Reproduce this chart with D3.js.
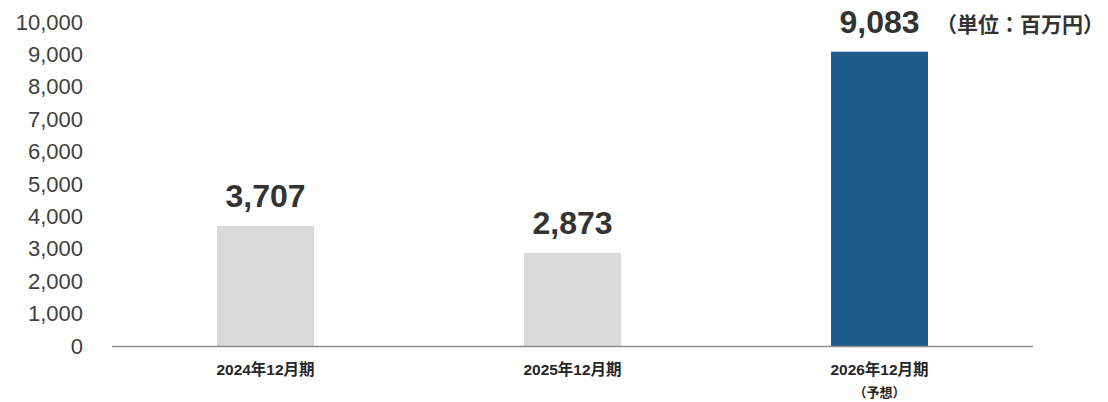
<!DOCTYPE html>
<html>
<head>
<meta charset="utf-8">
<script src="https://cdn.jsdelivr.net/npm/d3@7"></script>
<style>
  html, body { margin: 0; padding: 0; background: #fff; }
  svg { display: block; font-family: "Liberation Sans", Arial, "Noto Sans CJK JP", sans-serif; }
</style>
</head>
<body>
<svg id="chart" width="1108" height="402"></svg>
<script>
// data
const periods = ['2024年12月期', '2025年12月期', '2026年12月期'];
const subLabels = ['', '', '（予想）'];
const sales = [3707, 2873, 9083];
const barColors = ['#d9d9d9', '#d9d9d9', '#1f5c8b'];
const yTicks = [0, 1000, 2000, 3000, 4000, 5000, 6000, 7000, 8000, 9000, 10000];
const unitLabel = '（単位：百万円）';

const svg = d3.select('#chart');

const x = d3.scaleBand().domain(periods).range([112, 1033]).padding(0);
const y = d3.scaleLinear().domain([0, 10000]).range([346, 22]);
const barW = x.bandwidth() * 97 / 307;
const fmt = d3.format(',');

// y axis labels only (no line)
const yAxis = svg.append('g')
  .attr('transform', 'translate(83,0)')
  .call(d3.axisLeft(y).tickValues(yTicks).tickFormat(fmt).tickSize(0).tickPadding(0));
yAxis.select('.domain').remove();
yAxis.selectAll('text')
  .attr('font-size', 22)
  .attr('fill', '#404040')
  .attr('font-family', '"Liberation Sans", Arial, sans-serif');

// bars
svg.append('g').selectAll('rect')
  .data(sales)
  .join('rect')
  .attr('x', (d, i) => x(periods[i]) + x.bandwidth() / 2 - barW / 2)
  .attr('y', d => y(d))
  .attr('width', barW)
  .attr('height', d => y(0) - y(d))
  .attr('fill', (d, i) => barColors[i]);

// baseline
svg.append('line')
  .attr('x1', 112).attr('x2', 1033)
  .attr('y1', y(0) + 0.5).attr('y2', y(0) + 0.5)
  .attr('stroke', '#8c8c8c')
  .attr('stroke-width', 1.5);

// value labels
svg.append('g').selectAll('text')
  .data(sales)
  .join('text')
  .attr('x', (d, i) => x(periods[i]) + x.bandwidth() / 2)
  .attr('y', d => y(d) - 19)
  .attr('text-anchor', 'middle')
  .attr('font-size', 32)
  .attr('font-weight', 'bold')
  .attr('fill', '#333333')
  .text(d => fmt(d));

// category labels
const xg = svg.append('g').attr('transform', `translate(0,${y(0)})`)
  .call(d3.axisBottom(x).tickSize(0).tickPadding(0));
xg.select('.domain').remove();
xg.selectAll('text')
  .attr('dy', 0)
  .attr('y', 29)
  .attr('font-size', 15.5)
  .attr('font-weight', 'bold')
  .attr('fill', '#262626')
  .attr('font-family', '"Liberation Sans", Arial, "Noto Sans CJK JP", sans-serif');

svg.append('g').selectAll('text')
  .data(subLabels)
  .join('text')
  .attr('x', (d, i) => x(periods[i]) + x.bandwidth() / 2)
  .attr('y', 397)
  .attr('text-anchor', 'middle')
  .attr('font-size', 13)
  .attr('font-weight', 'bold')
  .attr('fill', '#262626')
  .attr('font-family', '"Noto Sans CJK JP", sans-serif')
  .text(d => d);

// unit
svg.append('text')
  .attr('x', 1104)
  .attr('y', 32)
  .attr('text-anchor', 'end')
  .attr('font-size', 21)
  .attr('font-weight', 'bold')
  .attr('fill', '#333333')
  .attr('font-family', '"Noto Sans CJK JP", sans-serif')
  .text(unitLabel);
</script>
</body>
</html>
